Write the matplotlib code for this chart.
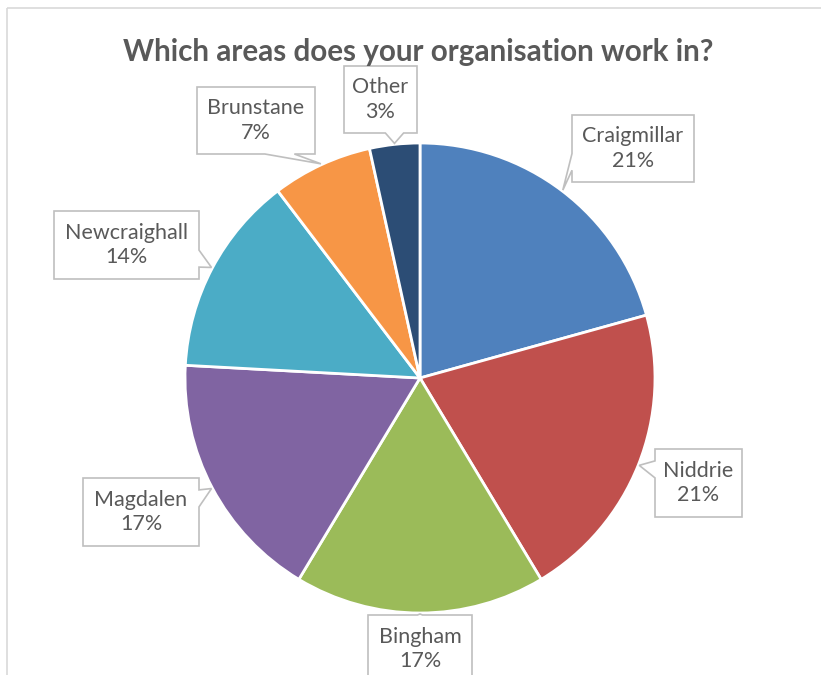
import numpy as np
import matplotlib
matplotlib.use("Agg")
import matplotlib.pyplot as plt
from matplotlib.patches import Polygon, Rectangle

# survey answers (number of organisations per area)
areas = ["Craigmillar", "Niddrie", "Bingham", "Magdalen", "Newcraighall", "Brunstane", "Other"]
counts = [6, 6, 5, 5, 4, 2, 1]
colours = ["#4F81BD", "#C0504D", "#9BBB59", "#8064A2", "#4BACC6", "#F79646", "#2C4D75"]

# label box centres and sizes, in pixels from the top-left corner
box_centres = [(633, 148.5), (698.5, 483), (420, 649), (141, 512),
               (126.5, 245), (256, 120.5), (380.5, 99.5)]
box_sizes = [(122, 67), (87, 68), (104, 68), (116, 68), (145, 68), (118, 67), (73, 67)]

W, H = 821, 675
cx, cy, R = 420, 378, 235
text_col = "#595959"
plt.rcParams['font.family'] = ['Lato', 'DejaVu Sans']


def callout(ax, centre, size, tip):
    # rectangle with a small pointer on the side facing the tip
    x0, x1 = centre[0] - size[0] / 2, centre[0] + size[0] / 2
    y0, y1 = centre[1] - size[1] / 2, centre[1] + size[1] / 2
    tx, ty = tip
    out = {"left": x0 - tx, "right": tx - x1, "top": y0 - ty, "bottom": ty - y1}
    side = max(out, key=out.get)
    dist = max(out[side], 1)
    if side in ("top", "bottom"):
        L = x1 - x0
        c = np.clip(tx, x0 + 0.3 * L, x1 - 0.3 * L)
    else:
        L = y1 - y0
        c = np.clip(ty, y0 + 0.3 * L, y1 - 0.3 * L)
    h = min(0.125 * L, 2.5 * dist)
    if side == "top":
        pts = [(x0, y0), (c - h, y0), (tx, ty), (c + h, y0), (x1, y0), (x1, y1), (x0, y1)]
    elif side == "right":
        pts = [(x0, y0), (x1, y0), (x1, c - h), (tx, ty), (x1, c + h), (x1, y1), (x0, y1)]
    elif side == "bottom":
        pts = [(x0, y0), (x1, y0), (x1, y1), (c + h, y1), (tx, ty), (c - h, y1), (x0, y1)]
    else:
        pts = [(x0, y0), (x1, y0), (x1, y1), (x0, y1), (x0, c + h), (tx, ty), (x0, c - h)]
    ax.add_patch(Polygon(pts, closed=True, facecolor="white", edgecolor="#BFBFBF",
                         linewidth=1.2, zorder=3))


fig = plt.figure(figsize=(W / 100, H / 100), dpi=100)
ax = fig.add_axes([0, 0, 1, 1])

# y axis runs downwards, so counterclock=True goes clockwise on screen
wedges, _ = ax.pie(counts, colors=colours, startangle=-90, counterclock=True,
                   center=(cx, cy), radius=R,
                   wedgeprops=dict(edgecolor="white", linewidth=2))
ax.set_xlim(0, W)
ax.set_ylim(H, 0)
ax.set_aspect("equal")
ax.axis("off")

total = sum(counts)
for w, name, n, c, s in zip(wedges, areas, counts, box_centres, box_sizes):
    mid = np.deg2rad((w.theta1 + w.theta2) / 2)
    tip = (cx + (R + 1) * np.cos(mid), cy + (R + 1) * np.sin(mid))
    callout(ax, c, s, tip)
    pct = round(100 * n / total)
    ax.text(c[0], c[1], f"{name}\n{pct}%", ha="center", va="center",
            fontsize=15.5, color=text_col, linespacing=1.3, zorder=4)

ax.text(418, 61, "Which areas does your organisation work in?", ha="center",
        va="baseline", fontsize=21.3, fontweight="bold", color=text_col)

# chart area frame
ax.add_patch(Rectangle((7, 8), 830, 700, fill=False, edgecolor="#D9D9D9",
                       linewidth=1.2, clip_on=True))

fig.savefig("out.png", dpi=100)
